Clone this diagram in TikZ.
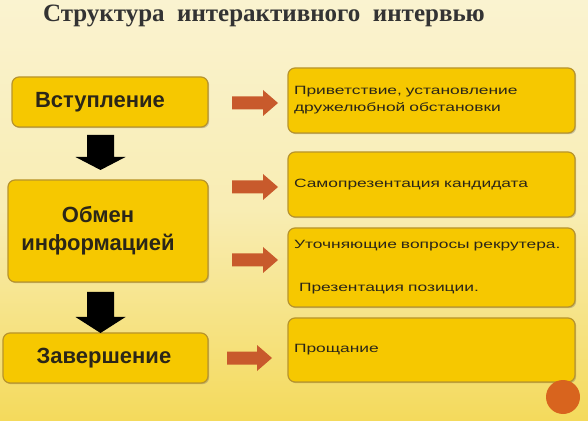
\documentclass[tikz,border=0pt]{standalone}
\usepackage{fontspec}
\setmainfont{Liberation Sans}
\newfontfamily\titlefont{Liberation Serif}
\newfontfamily\smallfont[FakeStretch=1.45]{Liberation Sans}
\usetikzlibrary{shadows}
\definecolor{bgtop}{HTML}{FAF3D0}
\definecolor{bgbot}{HTML}{F4DA5C}
\definecolor{boxfill}{HTML}{F6C800}
\definecolor{boxline}{HTML}{B8942C}
\definecolor{arrorange}{HTML}{C85A2C}
\definecolor{circorange}{HTML}{D8641E}
\definecolor{txt}{HTML}{2B2618}
\newcommand{\orangeblock}[3]{%
  \fill[arrorange] (#1,#3-6.5) -- (#2-15,#3-6.5) -- (#2-15,#3-13) -- (#2,#3)
    -- (#2-15,#3+13) -- (#2-15,#3+6.5) -- (#1,#3+6.5) -- cycle;}
\newcommand{\blackblock}[4]{%
  \fill[black] (#1-13.5,#2) -- (#1+13.5,#2) -- (#1+13.5,#3) -- (#1+25,#3) -- (#1,#4)
    -- (#1-25,#3) -- (#1-13.5,#3) -- cycle;}
\tikzset{
  x=1pt,y=1pt,
  box/.style={draw=boxline, line width=1.2pt, fill=boxfill, rounded corners=7pt,
    drop shadow={shadow xshift=1.2pt, shadow yshift=-1.2pt, opacity=0.35, fill=black!60}},
  lefttext/.style={align=center, text=txt, font=\bfseries\fontsize{22}{28}\selectfont},
  rightbox/.style={box, minimum width=287pt, text width=275pt, align=left, inner xsep=6pt,
    text=txt, font=\smallfont\fontsize{12}{17}\selectfont}
}
\begin{document}
\begin{tikzpicture}
\useasboundingbox (0,0) rectangle (588,420);
\shade[top color=bgtop, bottom color=bgbot, middle color=bgtop!75!bgbot] (0,0) rectangle (588,420);
\node[font=\titlefont\bfseries\fontsize{25}{30}\selectfont, text=black!80] (title) at (264,404) {Структура\ \ интерактивного\ \ интервью};

\node[box, minimum width=196pt, minimum height=50pt] (l1) at (110,318) {};
\node[box, minimum width=200pt, minimum height=102pt] (l2) at (108,189) {};
\node[box, minimum width=205pt, minimum height=50pt] (l3) at (105.5,62) {};
\node[lefttext] (t1) at ([xshift=-10pt]l1.center) {Вступление};
\node[lefttext] (t2) at ([xshift=-10pt]l2.center) {Обмен\\информацией};
\node[lefttext] (t3) at ([xshift=-1.5pt]l3.center) {Завершение};

\node[rightbox, minimum height=65pt] (r1) at (431.5,319.5) {Приветствие, установление\\дружелюбной обстановки};
\node[rightbox, minimum height=65pt] (r2) at (431.5,235.5) {Самопрезентация кандидата};
\node[rightbox, minimum height=79pt] (r3) at (431.5,152.5) {Уточняющие вопросы рекрутера.\\[26pt]\hspace*{5pt}Презентация позиции.};
\node[rightbox, minimum height=64pt] (r4) at (431.5,70) {Прощание};

\blackblock{100.5}{285}{263}{250}
\blackblock{100.5}{128}{103}{87}

\orangeblock{232}{278}{317}
\orangeblock{232}{278}{233}
\orangeblock{232}{278}{160}
\orangeblock{227}{272}{62}

\fill[circorange] (563,23) circle (17);
\end{tikzpicture}
\end{document}
